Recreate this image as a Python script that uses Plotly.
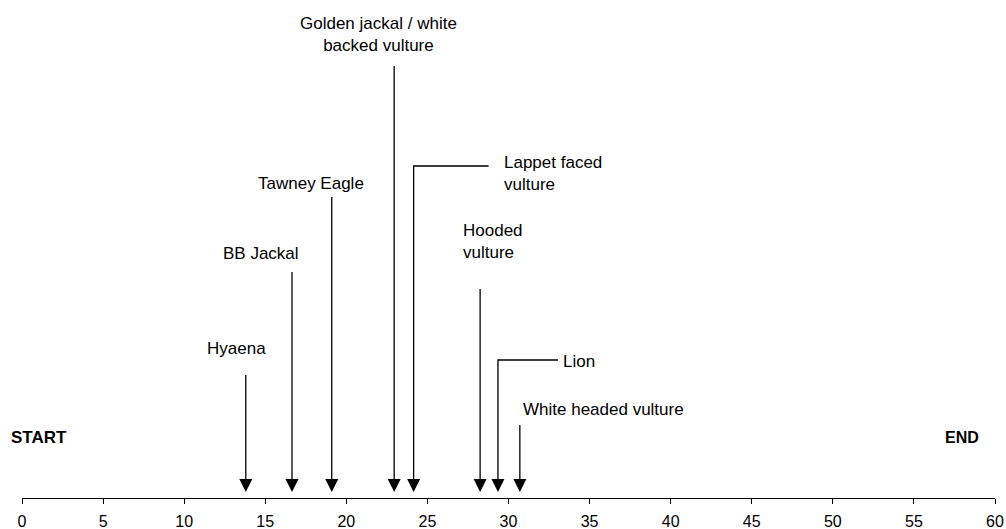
import plotly.graph_objects as go

# ---- data ----
labels = ["Hyaena", "BB Jackal", "Tawney Eagle", "Golden jackal / white<br>backed vulture",
          "Lappet faced<br>vulture", "Hooded<br>vulture", "Lion", "White headed vulture"]
arrival_time = [13.8, 16.65, 19.1, 22.95, 24.15, 28.25, 29.35, 30.7]
x_ticks = list(range(0, 61, 5))

# ---- layout helpers (vertical rows in pixels from the top of the plot area) ----
AXIS_ROW = 498
TIP_ROW = 492
arrow_top = [375, 272, 197, 66, 166, 289, 360, 425]
# label placement: (row, anchor, x-shift px from arrow, elbow connector length px or 0)
label_place = [
    (348, "center", -9, 0),
    (253, "center", -31, 0),
    (183, "center", -21, 0),
    (34, "center", -16, 0),
    (173, "left", 88, 75),
    (241, "left", -19, 0),
    (361, "left", 63, 60),
    (409, "left", 1, 0),
]

W, H = 1006, 529
ML, MR, MT = 22, 11, 0
MB = H - AXIS_ROW
XMIN, XMAX = 0, 60
px_per_unit = (W - ML - MR) / (XMAX - XMIN)

FONT = "Liberation Sans, Arial, sans-serif"

fig = go.Figure()

lx, ly = [], []
for t, top, (row, anc, shift, elbow) in zip(arrival_time, arrow_top, label_place):
    if elbow:
        lx += [t + elbow / px_per_unit, t, t, None]
        ly += [top, top, TIP_ROW - 6, None]
    else:
        lx += [t, t, None]
        ly += [top, TIP_ROW - 6, None]

fig.add_trace(go.Scatter(x=lx, y=ly, mode="lines", line=dict(color="black", width=1.3),
                         hoverinfo="skip", showlegend=False, cliponaxis=False))
fig.add_trace(go.Scatter(x=arrival_time, y=[TIP_ROW] * len(arrival_time), mode="markers",
                         marker=dict(symbol="arrow-down", size=13, color="black",
                                     line=dict(width=0)),
                         hoverinfo="skip", showlegend=False, cliponaxis=False))

for t, lab, (row, anc, shift, elbow) in zip(arrival_time, labels, label_place):
    fig.add_annotation(x=t, y=row, xref="x", yref="y", text=lab, showarrow=False,
                       xanchor=anc, yanchor="middle", xshift=shift, align=anc,
                       font=dict(family=FONT, size=17, color="black"))

fig.add_annotation(x=0, y=437, xref="paper", yref="y", text="<b>START</b>", showarrow=False,
                   xanchor="left", yanchor="middle", xshift=-13,
                   font=dict(family=FONT, size=17, color="black"))
fig.add_annotation(x=1, y=437, xref="paper", yref="y", text="<b>END</b>", showarrow=False,
                   xanchor="right", yanchor="middle", xshift=-14,
                   font=dict(family=FONT, size=16, color="black"))

fig.update_layout(
    width=W, height=H,
    margin=dict(l=ML, r=MR, t=MT, b=MB),
    plot_bgcolor="white", paper_bgcolor="white",
    xaxis=dict(range=[XMIN, XMAX], tickvals=x_ticks, ticks="outside", ticklen=5,
               tickcolor="black", tickwidth=1, showline=True, linecolor="black",
               linewidth=1, showgrid=False, zeroline=False, ticklabelstandoff=4,
               tickfont=dict(family=FONT, size=16, color="black")),
    yaxis=dict(range=[AXIS_ROW, 0], visible=False, showgrid=False, zeroline=False),
)

fig.write_html("out.html", config={"displayModeBar": False},
               post_script="document.body.style.margin='0';document.body.style.padding='0';")
